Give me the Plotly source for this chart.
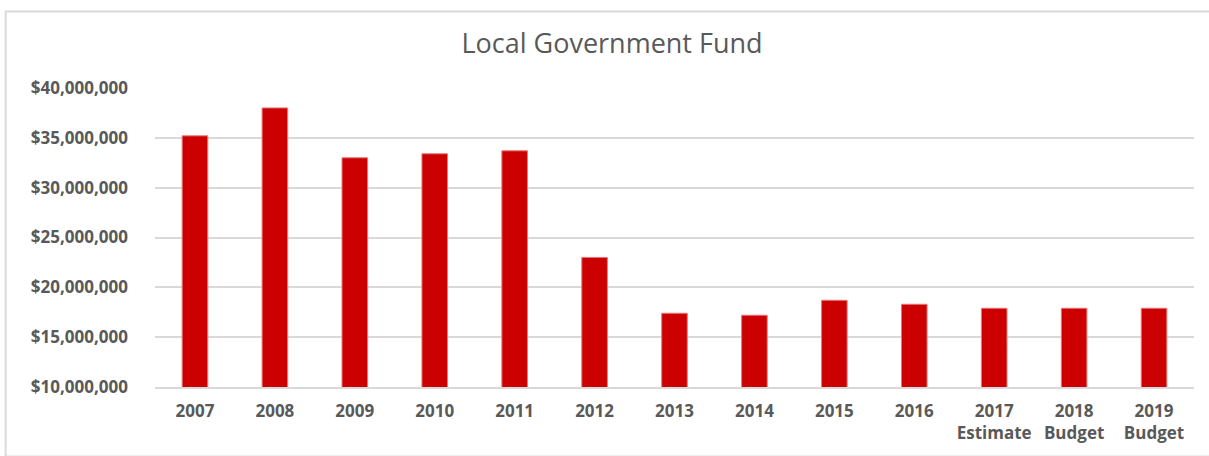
import plotly.graph_objects as go

# Fiscal periods and fund amounts (USD)
years = ["2007", "2008", "2009", "2010", "2011", "2012", "2013", "2014",
         "2015", "2016", "2017<br>Estimate", "2018<br>Budget", "2019<br>Budget"]
amounts = [35.2e6, 38.0e6, 33.0e6, 33.4e6, 33.7e6, 23.0e6, 17.4e6, 17.2e6,
           18.7e6, 18.3e6, 17.9e6, 17.9e6, 17.9e6]
y_ticks = [10e6, 15e6, 20e6, 25e6, 30e6, 35e6, 40e6]
y_tick_text = ["$10,000,000", "$15,000,000", "$20,000,000", "$25,000,000",
               "$30,000,000", "$35,000,000", "$40,000,000"]

W, H = 1209, 456
L, R, T, B = 154.5, 14.5, 87.5, 65.5

grey = "#595959"
grid = "#d9d9d9"

fig = go.Figure(go.Bar(
    x=years, y=amounts,
    marker=dict(color="#cc0000", line=dict(color="#e87878", width=1)),
    hoverinfo="x+y",
))

# outer chart frame, expressed in paper coordinates
pw, ph = W - L - R, H - T - B
fx0 = (5 - L) / pw
fx1 = (W + 5 - L) / pw
fy1 = (H - B - 10) / ph
fy0 = (H - B - (H + 5)) / ph
fig.add_shape(type="rect", xref="paper", yref="paper",
              x0=fx0, x1=fx1, y0=fy0, y1=fy1,
              line=dict(color=grid, width=2), fillcolor="rgba(0,0,0,0)",
              layer="below")

fig.update_layout(
    width=W, height=H,
    margin=dict(l=L, r=R, t=T, b=B, pad=0),
    paper_bgcolor="white", plot_bgcolor="white",
    bargap=0.68,
    showlegend=False,
    title=dict(text="Local Government Fund", x=612 / W, xanchor="center",
               y=1 - 44 / H, yanchor="middle",
               font=dict(family="Open Sans", size=27, color=grey)),
    font=dict(family="Open Sans", color=grey),
)

tick_font = dict(family="Open Sans", size=17, color=grey, weight="bold")

fig.update_xaxes(
    showgrid=False, showline=True, linecolor=grid, linewidth=1.5,
    tickfont=tick_font, ticks="", ticklabelstandoff=8,
)
fig.update_yaxes(
    range=[10e6, 40e6], tickvals=y_ticks, ticktext=y_tick_text,
    showgrid=True, gridcolor=grid, gridwidth=1.5, zeroline=False,
    tickfont=tick_font, ticks="", ticklabelstandoff=26,
)

fig.write_html("out.html")
